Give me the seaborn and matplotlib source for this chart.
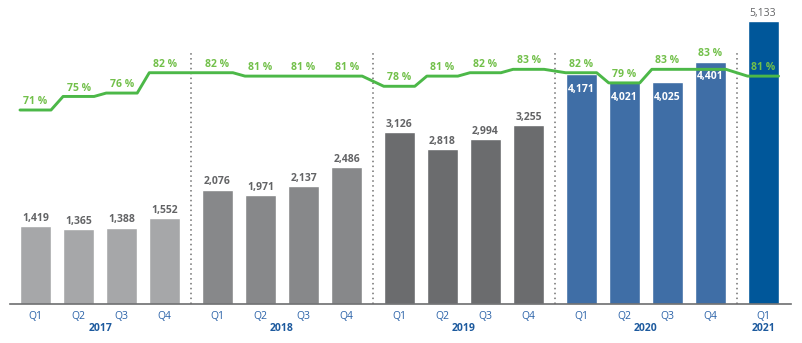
import numpy as np
import pandas as pd
import matplotlib
matplotlib.use("Agg")
import matplotlib.pyplot as plt
import seaborn as sns

# Data
years = ["2017", "2018", "2019", "2020", "2021"]
quarters = ["Q1", "Q2", "Q3", "Q4",
            "Q1", "Q2", "Q3", "Q4",
            "Q1", "Q2", "Q3", "Q4",
            "Q1", "Q2", "Q3", "Q4",
            "Q1"]
year_of_bar = ["2017"] * 4 + ["2018"] * 4 + ["2019"] * 4 + ["2020"] * 4 + ["2021"]
values = [1419, 1365, 1388, 1552,
          2076, 1971, 2137, 2486,
          3126, 2818, 2994, 3255,
          4171, 4021, 4025, 4401,
          5133]
shares = [71, 75, 76, 82,
          82, 81, 81, 81,
          78, 81, 82, 83,
          82, 79, 83, 83,
          81]

year_colors = {"2017": "#a6a7a9", "2018": "#87888a", "2019": "#6b6c6e",
               "2020": "#3f6ea6", "2021": "#00579a"}

sns.set_theme(style="white")
plt.rcParams["font.family"] = ["Open Sans", "DejaVu Sans"]

# Bar positions: unit step within a year, small extra gap between years
gap = 0.22
group_idx = [years.index(y) for y in year_of_bar]
xpos = np.array([i + gap * g for i, g in enumerate(group_idx)])
bar_w = 0.72

df = pd.DataFrame({"x": xpos, "value": values, "share": shares,
                   "year": year_of_bar, "quarter": quarters})

fig = plt.figure(figsize=(8.02, 3.43), dpi=100)
ax = fig.add_axes([10 / 802, 39 / 343, 781 / 802, 299 / 343])
ax.set_xlim((10 - 35.5) / 43.1, (791 - 35.5) / 43.1)
ax.set_ylim(0, 299 / 0.0551)

for yr in years:
    sub = df[df["year"] == yr]
    ax.bar(sub["x"], sub["value"], width=bar_w, color=year_colors[yr], zorder=2)

# Value labels
label_gray = "#636466"
for x, v, yr, q in zip(xpos, values, year_of_bar, quarters):
    txt = f"{v:,}"
    if yr == "2020":
        ax.annotate(txt, (x, v), xytext=(0, -11), textcoords="offset points",
                    ha="center", va="center", fontsize=7.5, fontweight="bold",
                    color="white", zorder=5)
    else:
        weight = "normal" if yr == "2021" else "bold"
        ax.annotate(txt, (x, v), xytext=(0, 5.5), textcoords="offset points",
                    ha="center", va="center", fontsize=7.5, fontweight=weight,
                    color=label_gray, zorder=5)

# Year separators
for g in range(len(years) - 1):
    last = max(i for i, gi in enumerate(group_idx) if gi == g)
    sep = (xpos[last] + xpos[last + 1]) / 2
    ax.plot([sep, sep], [0, 251 / 0.0551], color="#707070", lw=1.1,
            ls=(0, (1, 2.2)), zorder=1)

ax.set_yticks([])
ax.set_xticks(xpos)
ax.set_xticklabels(quarters, fontsize=7.5, color="#2a62a8")
ax.tick_params(axis="x", length=0, pad=5)
for s in ["top", "right", "left"]:
    ax.spines[s].set_visible(False)
ax.spines["bottom"].set_color("#6d6e70")
ax.spines["bottom"].set_linewidth(1.2)

# Year labels under the quarter ticks
for g, yr in enumerate(years):
    xs = xpos[np.array(group_idx) == g]
    ax.text(xs.mean(), -0.082, yr, transform=ax.get_xaxis_transform(),
            ha="center", va="center", fontsize=7.5, fontweight="bold",
            color="#1d5a9e")

# Share line on a secondary axis, flat across each bar
ax2 = ax.twinx()
ax2.set_ylim((350.7 - 304) / 3.39, (350.7 - 5) / 3.39)
ax2.set_axis_off()
lx, ly = [], []
for x, s in zip(xpos, shares):
    lx += [x - bar_w / 2, x + bar_w / 2]
    ly += [s, s]
line_df = pd.DataFrame({"x": lx, "share": ly})
sns.lineplot(data=line_df, x="x", y="share", ax=ax2, color="#4cb848",
             lw=2.1, sort=False, estimator=None, zorder=4)
ax2.set_xlim(ax.get_xlim())

for i, (x, s) in enumerate(zip(xpos, shares)):
    if year_of_bar[i] == "2020" and quarters[i] == "Q4":
        ax.annotate(f"{s} %", (x, values[i]), xytext=(0, 6), textcoords="offset points",
                    ha="center", va="center", fontsize=7.5, fontweight="bold",
                    color="#72c04a", zorder=6)
    else:
        ax2.annotate(f"{s} %", (x, s), xytext=(0, 6), textcoords="offset points",
                     ha="center", va="center", fontsize=7.5, fontweight="bold",
                     color="#72c04a", zorder=6)

fig.savefig("out.png", dpi=100)
